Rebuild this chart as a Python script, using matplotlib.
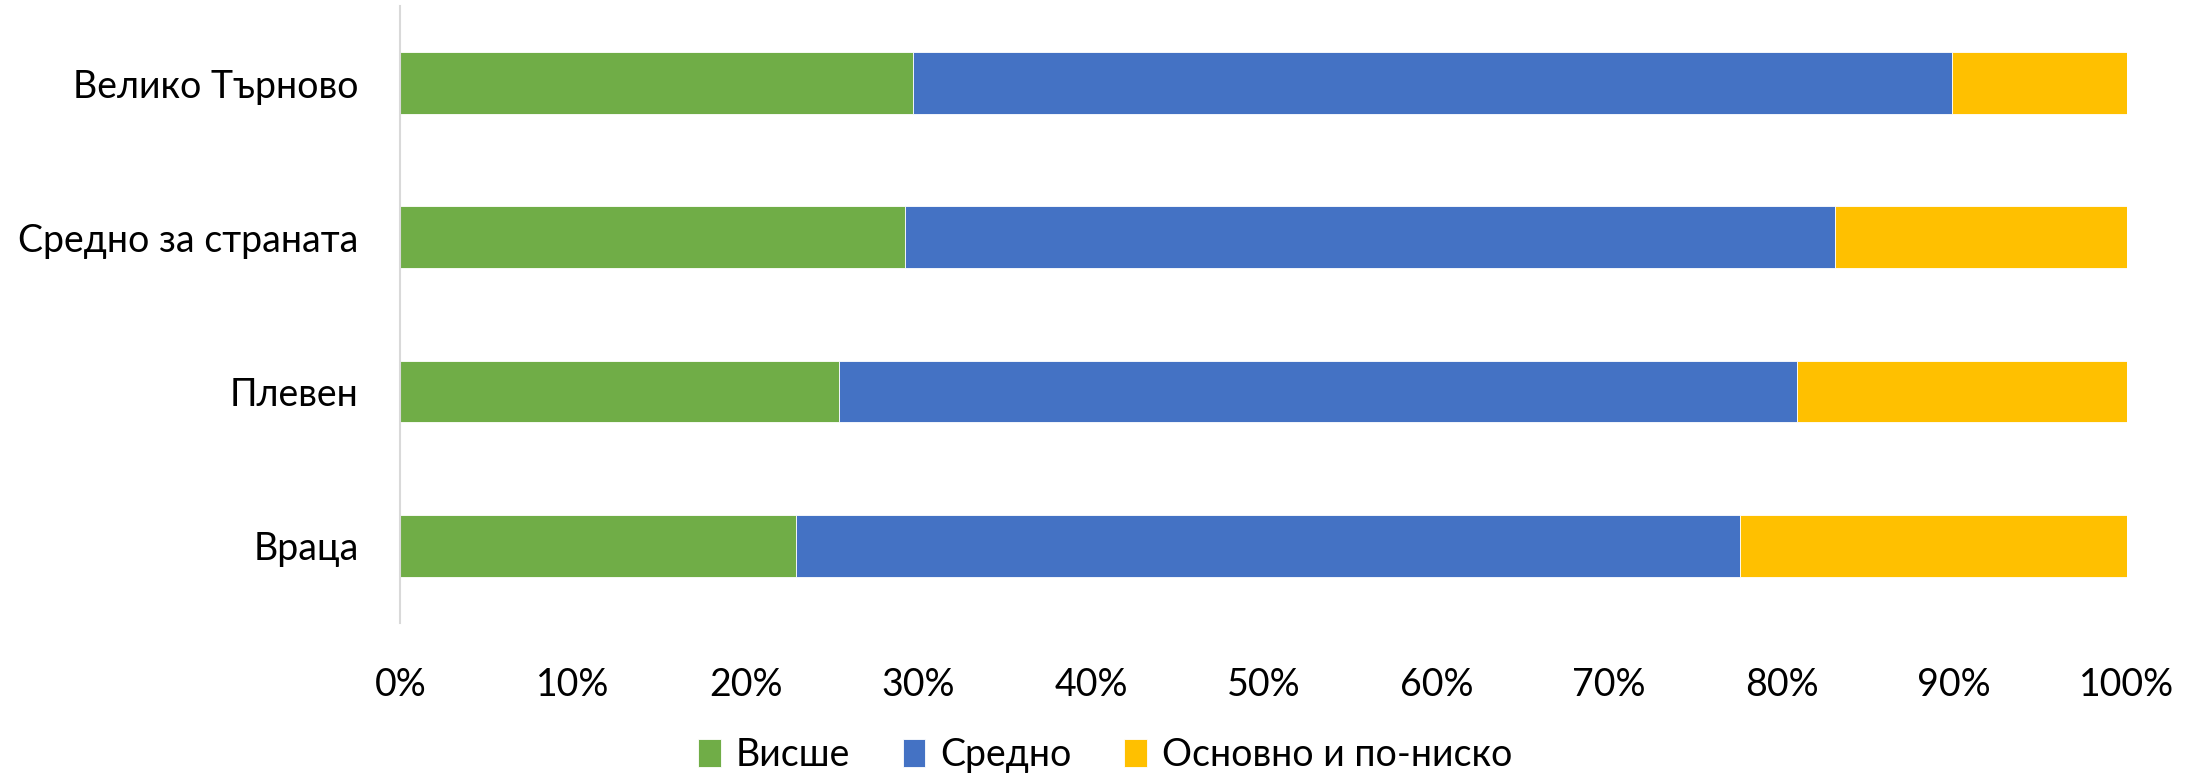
import matplotlib
matplotlib.use("Agg")
import matplotlib.pyplot as plt
from matplotlib.ticker import PercentFormatter

# Data (share of population by education level, %)
regions = ["Враца", "Плевен", "Средно за страната", "Велико Търново"]
higher = [22.9, 25.4, 29.2, 29.7]
secondary = [54.7, 55.5, 53.9, 60.2]
primary = [22.4, 19.1, 16.9, 10.1]
series_names = ["Висше", "Средно", "Основно и по-ниско"]
colors = ["#70AD47", "#4472C4", "#FFC000"]

plt.rcParams['font.family'] = ['Lato', 'DejaVu Sans']

fig = plt.figure(figsize=(22.04, 7.76), dpi=100)
ax = fig.add_axes([0.1817, 0.1972, 0.7833, 0.7951])

y = list(range(len(regions)))
left = [0.0] * len(regions)
for name, vals, col in zip(series_names, [higher, secondary, primary], colors):
    ax.barh(y, vals, left=left, height=0.4, color=col, label=name,
            edgecolor="white", linewidth=0.6)
    left = [l + v for l, v in zip(left, vals)]

ax.set_xlim(0, 100)
ax.set_ylim(-0.5, 3.5)
ax.set_xticks(range(0, 101, 10))
ax.xaxis.set_major_formatter(PercentFormatter(decimals=0))
ax.set_yticks(y)
ax.set_yticklabels(regions)

for s in ["top", "right", "bottom"]:
    ax.spines[s].set_visible(False)
ax.spines["left"].set_color("#d9d9d9")
ax.spines["left"].set_linewidth(1.5)

ax.tick_params(axis="x", length=0, pad=32, labelsize=27, labelcolor="#000000")
ax.tick_params(axis="y", length=0, pad=30, labelsize=27, labelcolor="#000000")

fig.legend(loc="center", bbox_to_anchor=(0.5015, 0.027), ncol=3, frameon=False,
           fontsize=27, handlelength=0.6, handleheight=0.8, handletextpad=0.4,
           columnspacing=1.4)

fig.savefig("out.png", dpi=100)
